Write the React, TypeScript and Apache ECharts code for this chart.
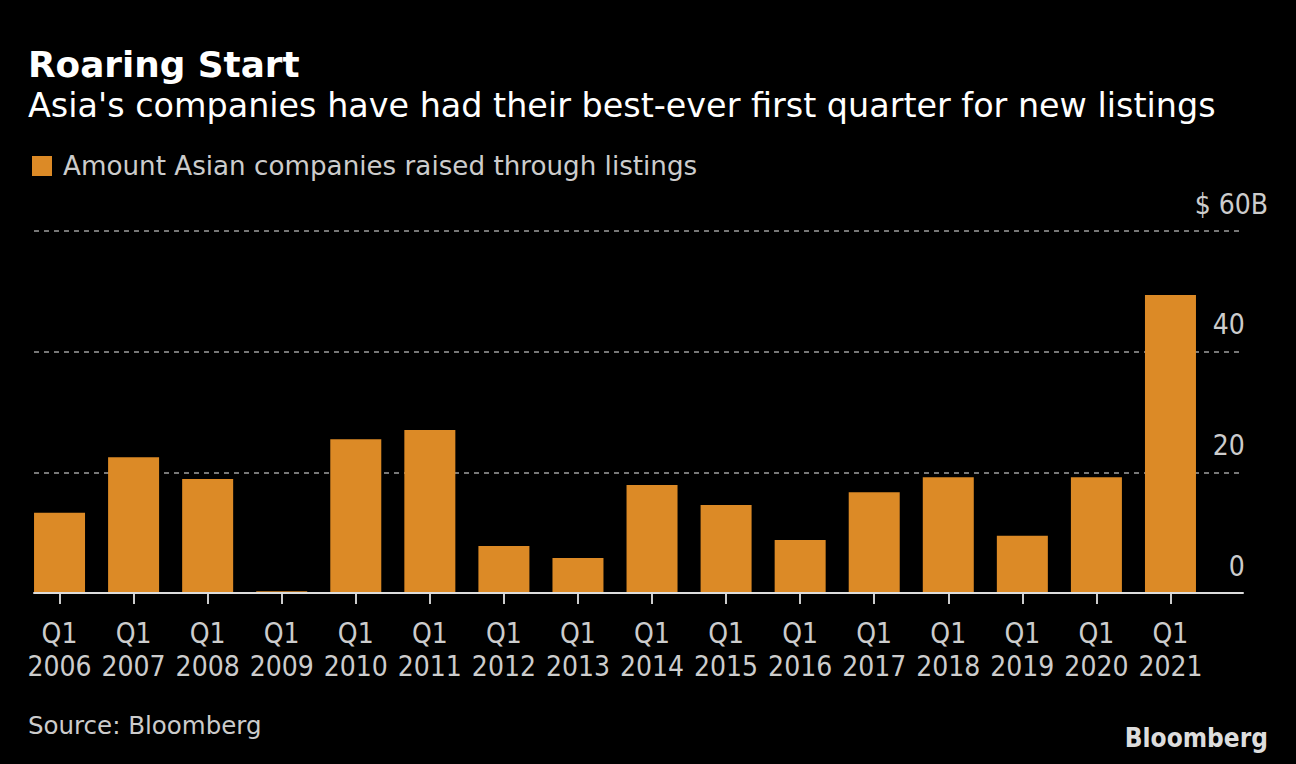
import React, { useEffect, useRef } from "react";
import * as echarts from "echarts";

const categories = [
  "Q1\n2006", "Q1\n2007", "Q1\n2008", "Q1\n2009", "Q1\n2010", "Q1\n2011", "Q1\n2012", "Q1\n2013",
  "Q1\n2014", "Q1\n2015", "Q1\n2016", "Q1\n2017", "Q1\n2018", "Q1\n2019", "Q1\n2020", "Q1\n2021",
];
const amounts = [13.3, 22.5, 18.9, 0.3, 25.5, 27.0, 7.8, 5.8, 17.9, 14.6, 8.8, 16.7, 19.2, 9.5, 19.2, 49.4];
const yTicks = [0, 20, 40, 60];

const COND = "'DejaVu Sans Condensed', 'DejaVu Sans', sans-serif";
const WIDE = "'DejaVu Sans', sans-serif";
const BAR = "#dc8a26";

export default function App() {
  const ref = useRef<HTMLDivElement>(null);
  useEffect(() => {
    document.body.style.margin = "0";
    document.body.style.background = "#000";
    const chart = echarts.init(ref.current!, null, { renderer: "svg" });
    chart.setOption({
      animation: false,
      backgroundColor: "#000",
      textStyle: { fontFamily: COND },
      title: [
        {
          text: "Roaring Start",
          left: 28,
          top: 46,
          padding: 0,
          textStyle: { color: "#fff", fontSize: 35.8, fontWeight: "bold", fontFamily: WIDE },
        },
        {
          text: "Asia's companies have had their best-ever first quarter for new listings",
          left: 28,
          top: 89,
          padding: 0,
          textStyle: { color: "#fff", fontSize: 33.4, fontWeight: "normal", fontFamily: WIDE },
        },
        {
          text: "Source: Bloomberg",
          left: 28,
          top: 713,
          padding: 0,
          textStyle: { color: "#ccc", fontSize: 24.5, fontWeight: "normal", fontFamily: WIDE },
        },
        {
          text: "Bloomberg",
          right: 28,
          top: 725,
          padding: 0,
          textStyle: { color: "#ddd", fontSize: 26, fontWeight: "bold", fontFamily: COND },
        },
      ],
      legend: {
        left: 32,
        top: 153,
        padding: 0,
        icon: "rect",
        itemWidth: 20,
        itemHeight: 20,
        itemGap: 10,
        textStyle: { color: "#ccc", fontSize: 26.2, fontFamily: WIDE, padding: [0, 0, 0, 6] },
        data: ["Amount Asian companies raised through listings"],
      },
      grid: [
        { left: 22.5, right: 88.5, top: 231, bottom: 171 },
        { left: 34, right: 53, top: 231, bottom: 171 },
      ],
      xAxis: [
        {
          type: "category",
          gridIndex: 0,
          data: categories,
          boundaryGap: true,
          axisLine: { show: false },
          axisTick: { show: true, alignWithLabel: true, length: 11, lineStyle: { color: "#ccc", width: 2 } },
          axisLabel: { color: "#ccc", fontSize: 28, lineHeight: 33, margin: 24, fontFamily: COND, interval: 0 },
          z: 3,
        },
        {
          type: "value",
          gridIndex: 1,
          min: 0,
          max: 1,
          axisLine: { show: true, onZero: false, lineStyle: { color: "#ddd", width: 2 } },
          axisTick: { show: false },
          axisLabel: { show: false },
          splitLine: { show: false },
          z: 4,
        },
      ],
      yAxis: [
        {
          type: "value",
          gridIndex: 0,
          min: 0,
          max: 60,
          interval: 20,
          show: false,
          splitLine: { show: false },
        },
        {
          type: "value",
          gridIndex: 1,
          position: "right",
          min: 0,
          max: 60,
          interval: 20,
          axisLine: { show: false },
          axisTick: { show: false },
          splitLine: { show: true, lineStyle: { color: "#777", width: 2, type: [5, 5] } },
          axisLabel: {
            inside: true,
            margin: -25,
            align: "right",
            verticalAlign: "middle",
            padding: [0, 0, 54, 0],
            formatter: (v: number) =>
              v === yTicks[yTicks.length - 1] ? `{a|$ ${v}B}` : `{a|${v}}{h|B}`,
            rich: {
              a: { color: "#ccc", fontSize: 28, fontFamily: COND },
              h: { color: "rgba(0,0,0,0)", fontSize: 28, fontFamily: COND, padding: [0, 0, 0, 6] },
            },
          },
        },
      ],
      series: [
        {
          name: "Amount Asian companies raised through listings",
          type: "bar",
          xAxisIndex: 0,
          yAxisIndex: 0,
          data: amounts,
          barWidth: 51,
          itemStyle: { color: BAR },
          z: 2,
        },
      ],
    });
    return () => chart.dispose();
  }, []);
  return <div ref={ref} style={{ width: 1296, height: 764 }} />;
}
